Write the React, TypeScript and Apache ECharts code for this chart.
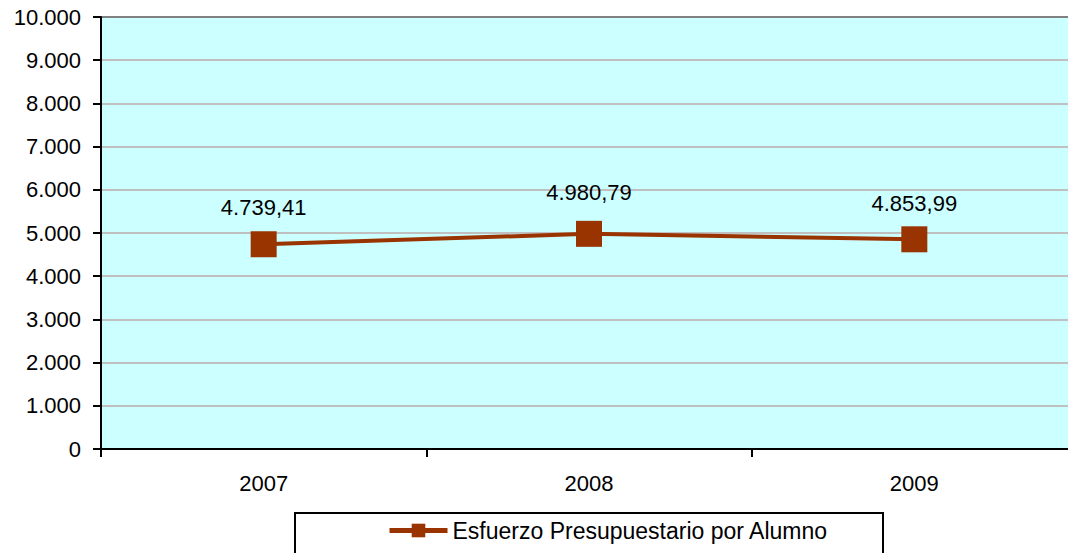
import React, { useEffect, useRef } from "react";
import * as echarts from "echarts";

const categories = ["2007", "2008", "2009"];
const values = [4739.41, 4980.79, 4853.99];
const seriesName = "Esfuerzo Presupuestario por Alumno";
const labelDistances = [13, 17, 12];

function fmtEs(v: number, dec: number): string {
  const fixed = v.toFixed(dec);
  const [intPart, decPart] = fixed.split(".");
  const withDots = intPart.replace(/\B(?=(\d{3})+(?!\d))/g, ".");
  return decPart ? withDots + "," + decPart : withDots;
}

export default function App() {
  const ref = useRef<HTMLDivElement>(null);
  useEffect(() => {
    if (!ref.current) return;
    const chart = echarts.init(ref.current, undefined, { renderer: "svg" });
    const font = "'Liberation Sans', Arial, sans-serif";
    const splitColors = ["#C0C0C0", "#C0C0C0", "#C0C0C0", "#C0C0C0", "#C0C0C0", "#C0C0C0", "#C0C0C0", "#C0C0C0", "#C0C0C0", "#C0C0C0", "#808080"];
    chart.setOption({
      animation: false,
      backgroundColor: "#FFFFFF",
      grid: {
        left: 101,
        right: 13,
        top: 17,
        bottom: 104,
        show: true,
        backgroundColor: "#CCFFFF",
        borderWidth: 0,
      },
      xAxis: {
        type: "category",
        data: categories,
        boundaryGap: true,
        axisLine: { lineStyle: { color: "#000000", width: 2 } },
        axisTick: { show: true, length: 8, lineStyle: { color: "#000000", width: 2 } },
        axisLabel: { color: "#000000", fontSize: 22, fontFamily: font, margin: 23 },
        splitLine: { show: false },
      },
      yAxis: {
        type: "value",
        min: 0,
        max: 10000,
        interval: 1000,
        axisLine: { show: true, lineStyle: { color: "#000000", width: 2 } },
        axisTick: { show: true, length: 8, lineStyle: { color: "#000000", width: 2 } },
        axisLabel: {
          color: "#000000",
          fontSize: 22,
          fontFamily: font,
          margin: 20,
          formatter: (v: number) => fmtEs(v, 0),
        },
        splitLine: { show: true, lineStyle: { color: splitColors, width: 2 } },
      },
      legend: {
        show: true,
        left: 387,
        top: 519,
        padding: 0,
        itemWidth: 58,
        itemHeight: 17,
        itemGap: 4,
        lineStyle: { width: 5, color: "#993300" },
        textStyle: { color: "#000000", fontSize: 23, fontFamily: font },
        data: [seriesName],
      },
      graphic: [
        {
          type: "rect",
          shape: { x: 295, y: 513, width: 588, height: 50 },
          style: { fill: "none", stroke: "#000000", lineWidth: 2 },
          z: 10,
        },
      ],
      series: [
        {
          name: seriesName,
          type: "line",
          data: values.map((v, i) => ({ value: v, label: { distance: labelDistances[i] } })),
          symbol: "rect",
          symbolSize: 26,
          itemStyle: { color: "#993300" },
          lineStyle: { color: "#993300", width: 4 },
          label: {
            show: true,
            position: "top",
            color: "#000000",
            fontSize: 22,
            fontFamily: font,
            formatter: (p: any) => fmtEs(p.value, 2),
          },
        },
      ],
    });
    return () => chart.dispose();
  }, []);
  return (
    <div style={{ position: "fixed", left: 0, top: 0, width: 1068, height: 553, overflow: "hidden", background: "#fff" }}>
      <div ref={ref} style={{ width: 1090, height: 553 }} />
    </div>
  );
}
